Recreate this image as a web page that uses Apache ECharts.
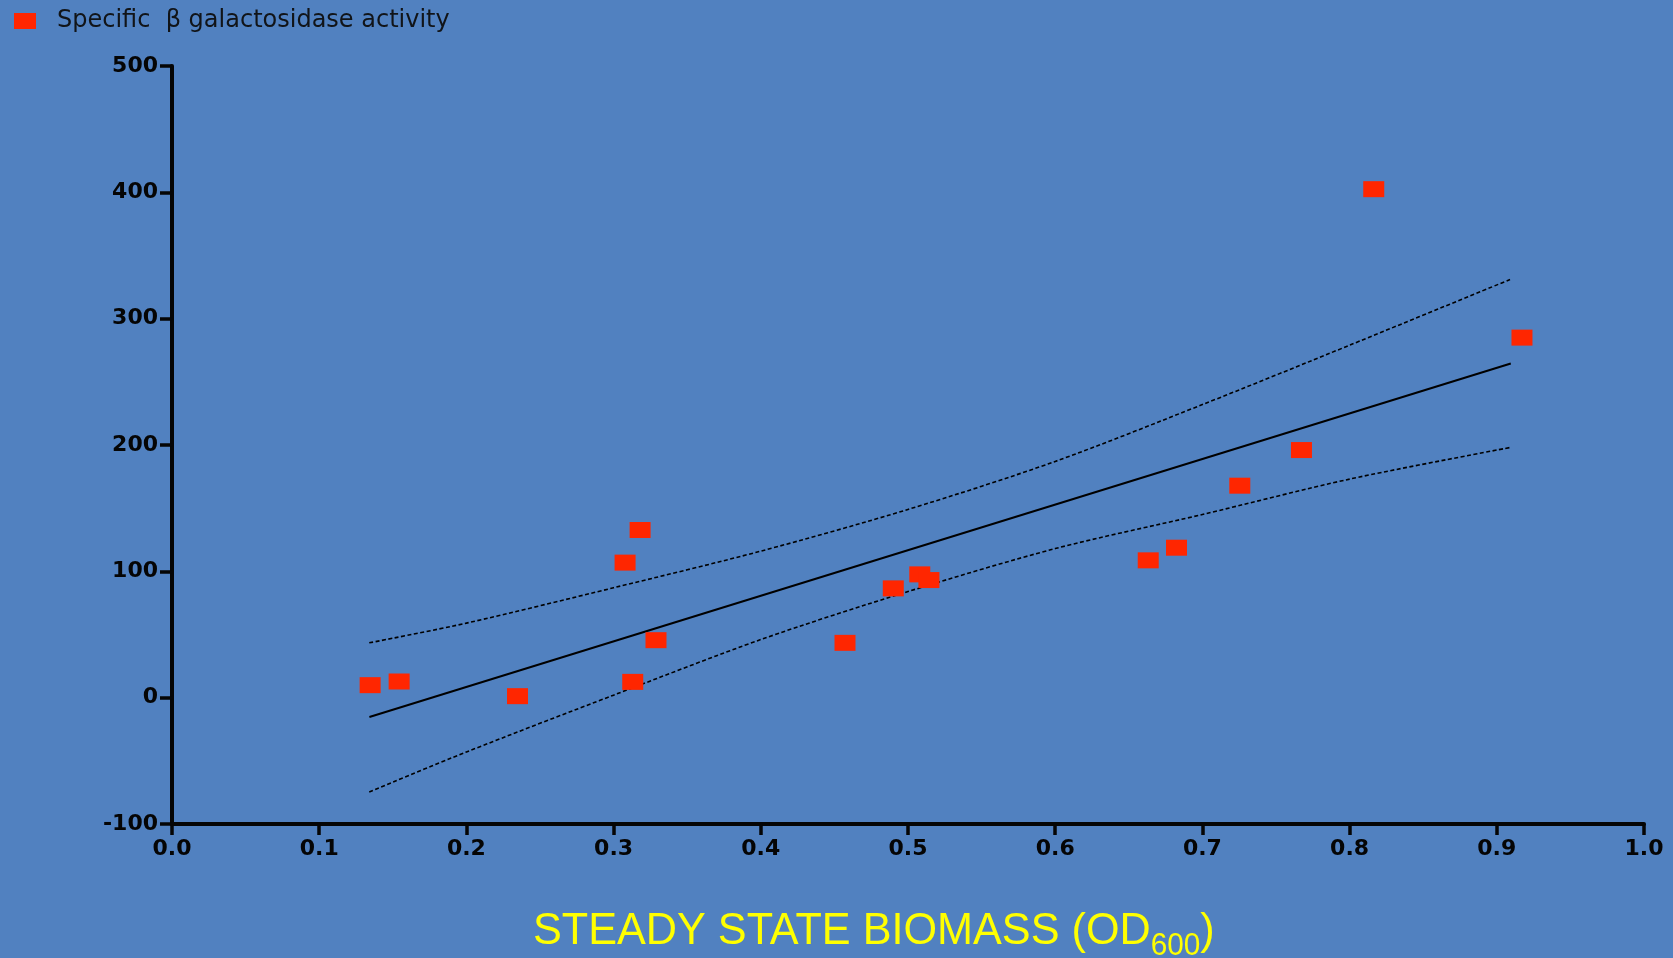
<!DOCTYPE html>
<html>
<head>
<meta charset="utf-8">
<title>β galactosidase activity vs steady state biomass</title>
<script src="https://cdn.jsdelivr.net/npm/echarts@6/dist/echarts.min.js"></script>
<style>
  html, body { margin: 0; padding: 0; background: #5181C0; }
  #chart { width: 1673px; height: 958px; }
</style>
</head>
<body>
<div id="chart"></div>
<script>
// Measured samples: steady state biomass (OD600) and specific activity
const biomass  = [0.1346, 0.1543, 0.2347, 0.3078, 0.3180, 0.3130, 0.3288, 0.4572, 0.4900,
                  0.5080, 0.5142, 0.6632, 0.6824, 0.7254, 0.7673, 0.8164, 0.9171];
const activity = [9.9, 12.8, 1.2, 106.9, 132.7, 12.5, 45.5, 43.4, 86.5,
                  97.6, 93.1, 108.7, 118.7, 167.8, 196.0, 402.5, 285.0];

// Linear regression line (end points)
const fitX = [0.1341, 0.9095];
const fitY = [-15.3, 264.5];

// 95% confidence band of the regression
const bandX     = [0.134, 0.2, 0.3, 0.4, 0.5, 0.6, 0.7, 0.8, 0.909];
const upperBand = [43.4, 59, 87, 116, 149, 187, 232, 279, 331];
const lowerBand = [-74.6, -43, 2, 46, 84, 118, 145, 173, 198];

// Axis ticks
const xTicks = { min: 0, max: 1, step: 0.1 };
const yTicks = { min: -100, max: 500, step: 100 };

const seriesName = 'Specific  β galactosidase activity';

const zip = (xs, ys) => xs.map((x, i) => [x, ys[i]]);

const chart = echarts.init(document.getElementById('chart'), null, { renderer: 'canvas' });

const axisBlack = '#050505';
const tickFont = {
  color: axisBlack,
  fontFamily: "'DejaVu Sans', sans-serif",
  fontWeight: 'bold',
  fontSize: 22
};
const titleFont = "'Liberation Sans', Arial, sans-serif";

chart.setOption({
  backgroundColor: '#5181C0',
  animation: false,
  legend: {
    left: 9,
    top: 4,
    itemWidth: 22,
    itemHeight: 16,
    data: [{ name: seriesName, icon: 'rect' }],
    textStyle: {
      color: '#111418',
      fontFamily: "'DejaVu Sans', sans-serif",
      fontSize: 24,
      padding: [0, 0, 0, 16]
    }
  },
  grid: { left: 172, right: 29, top: 66, bottom: 134, containLabel: false },
  xAxis: {
    type: 'value',
    min: xTicks.min,
    max: xTicks.max,
    interval: xTicks.step,
    splitLine: { show: false },
    axisLine: { onZero: false, lineStyle: { color: axisBlack, width: 4 } },
    axisTick: { length: 11, lineStyle: { color: axisBlack, width: 3.5 } },
    axisLabel: Object.assign({ margin: 14, formatter: v => v.toFixed(1) }, tickFont)
  },
  yAxis: {
    type: 'value',
    min: yTicks.min,
    max: yTicks.max,
    interval: yTicks.step,
    splitLine: { show: false },
    axisLine: { onZero: false, lineStyle: { color: axisBlack, width: 4 } },
    axisTick: { length: 12, lineStyle: { color: axisBlack, width: 3.5 } },
    axisLabel: Object.assign({ margin: 14 }, tickFont)
  },
  graphic: [{
    type: 'text',
    x: 533,
    y: 909,
    scaleX: 0.96,
    style: {
      text: '{m|STEADY STATE BIOMASS (OD}{s|600}{m|)}',
      rich: {
        m: {
          fill: '#FFFF00',
          fontFamily: titleFont,
          fontSize: 45,
          verticalAlign: 'top'
        },
        s: {
          fill: '#FFFF00',
          fontFamily: titleFont,
          fontSize: 31,
          padding: [22, 0, 0, 0],
          verticalAlign: 'top'
        }
      }
    }
  }],
  series: [
    {
      name: 'upper band',
      type: 'line',
      data: zip(bandX, upperBand),
      smooth: 0.3,
      symbol: 'none',
      silent: true,
      lineStyle: { color: '#000', width: 1.6, type: [4, 2.5] },
      z: 2
    },
    {
      name: 'lower band',
      type: 'line',
      data: zip(bandX, lowerBand),
      smooth: 0.3,
      symbol: 'none',
      silent: true,
      lineStyle: { color: '#000', width: 1.6, type: [4, 2.5] },
      z: 2
    },
    {
      name: 'fit',
      type: 'line',
      data: zip(fitX, fitY),
      symbol: 'none',
      silent: true,
      lineStyle: { color: '#000', width: 2 },
      z: 2
    },
    {
      name: seriesName,
      type: 'scatter',
      data: zip(biomass, activity),
      symbol: 'rect',
      symbolSize: [21, 16],
      itemStyle: { color: '#FF2600', opacity: 1 },
      z: 3
    }
  ]
});
</script>
</body>
</html>
